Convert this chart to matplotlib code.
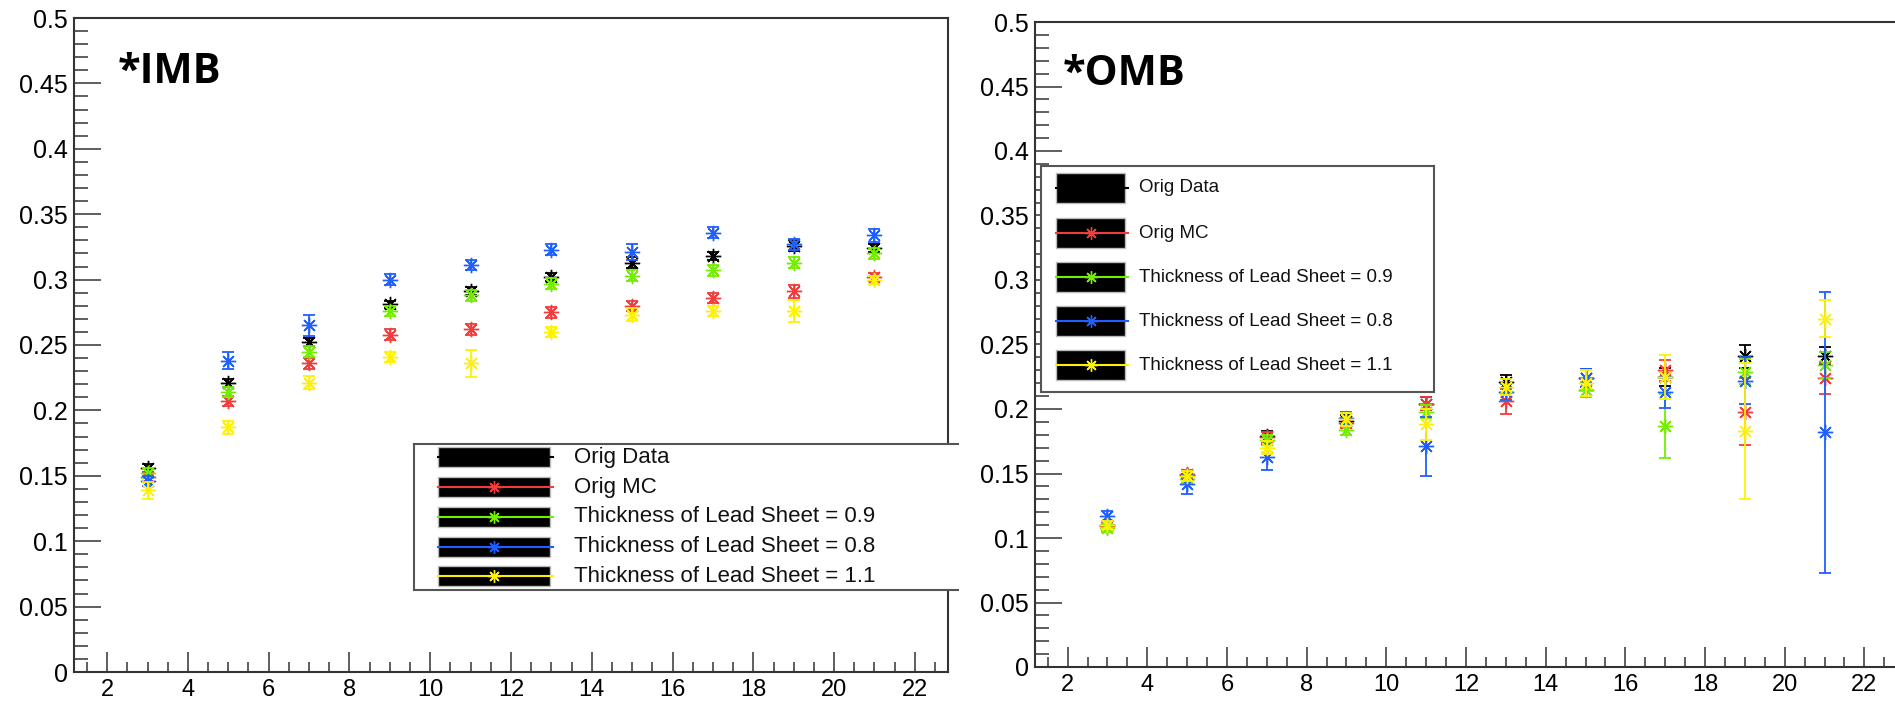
import matplotlib
matplotlib.use("Agg")
import matplotlib.pyplot as plt
from matplotlib.patches import Rectangle
from matplotlib.lines import Line2D
from matplotlib.ticker import MultipleLocator, FuncFormatter

# Datos
x_vals = [3, 5, 7, 9, 11, 13, 15, 17, 19, 21]
labels = ['Orig Data', 'Orig MC', 'Thickness of Lead Sheet = 0.9',
          'Thickness of Lead Sheet = 0.8', 'Thickness of Lead Sheet = 1.1']
colors = ['black', '#f03c3c', '#74ee00', '#1f5fff', '#fff200']

# *IMB
imb_data = [0.156, 0.221, 0.252, 0.281, 0.291, 0.302, 0.313, 0.318, 0.326, 0.324]
imb_mc = [0.149, 0.207, 0.236, 0.258, 0.262, 0.275, 0.280, 0.286, 0.291, 0.302]
imb_09 = [0.152, 0.214, 0.245, 0.276, 0.288, 0.297, 0.303, 0.307, 0.313, 0.320]
imb_08 = [0.146, 0.238, 0.265, 0.300, 0.311, 0.323, 0.321, 0.336, 0.327, 0.334]
imb_11 = [0.139, 0.187, 0.221, 0.241, 0.236, 0.260, 0.273, 0.276, 0.276, 0.300]
imb_data_err = [0.003, 0.003, 0.003, 0.003, 0.003, 0.003, 0.004, 0.003, 0.004, 0.003]
imb_mc_err = [0.004, 0.004, 0.004, 0.004, 0.004, 0.004, 0.004, 0.004, 0.005, 0.003]
imb_09_err = [0.004, 0.004, 0.004, 0.004, 0.004, 0.004, 0.004, 0.004, 0.004, 0.004]
imb_08_err = [0.004, 0.0064, 0.0079, 0.004, 0.004, 0.004, 0.006, 0.004, 0.004, 0.005]
imb_11_err = [0.0064, 0.005, 0.005, 0.004, 0.0104, 0.004, 0.005, 0.004, 0.0087, 0.003]

# *OMB
omb_data = [0.110, 0.149, 0.179, 0.191, 0.204, 0.221, 0.224, 0.225, 0.241, 0.241]
omb_mc = [0.109, 0.150, 0.178, 0.189, 0.204, 0.206, 0.215, 0.230, 0.198, 0.224]
omb_09 = [0.108, 0.146, 0.176, 0.184, 0.198, 0.213, 0.215, 0.187, 0.229, 0.234]
omb_08 = [0.117, 0.142, 0.163, 0.193, 0.171, 0.213, 0.224, 0.213, 0.222, 0.182]
omb_11 = [0.110, 0.148, 0.170, 0.192, 0.188, 0.217, 0.220, 0.225, 0.183, 0.270]
omb_data_err = [0.003, 0.003, 0.004, 0.004, 0.005, 0.005, 0.007, 0.007, 0.009, 0.007]
omb_mc_err = [0.003, 0.003, 0.004, 0.004, 0.005, 0.0095, 0.006, 0.008, 0.026, 0.012]
omb_09_err = [0.003, 0.003, 0.004, 0.004, 0.005, 0.006, 0.006, 0.025, 0.010, 0.010]
omb_08_err = [0.004, 0.008, 0.010, 0.005, 0.023, 0.006, 0.007, 0.012, 0.018, 0.109]
omb_11_err = [0.003, 0.004, 0.005, 0.005, 0.012, 0.006, 0.010, 0.017, 0.053, 0.0145]

W, H = 1895, 703
plt.rcParams['font.family'] = ['Liberation Sans', 'DejaVu Sans']
fig = plt.figure(figsize=(W / 100, H / 100), dpi=100)

STAR = (8, 2, 0)


def px(x, y):
    return (x / W, 1 - y / H)


def setup_axes(ax):
    ax.set_xlim(1.18, 22.82)
    ax.set_ylim(0, 0.5)
    ax.xaxis.set_major_locator(MultipleLocator(2))
    ax.xaxis.set_minor_locator(MultipleLocator(0.5))
    ax.yaxis.set_major_locator(MultipleLocator(0.05))
    ax.yaxis.set_minor_locator(MultipleLocator(0.01))
    ax.yaxis.set_major_formatter(FuncFormatter(lambda v, p: '%g' % round(v, 3)))
    ax.tick_params(axis='both', which='both', direction='in', width=1.1,
                   color='#333333', top=False, right=False)
    ax.tick_params(axis='y', which='major', length=19.5, pad=4.5, labelsize=18)
    ax.tick_params(axis='y', which='minor', length=10)
    ax.tick_params(axis='x', which='major', length=14.5, pad=5, labelsize=17)
    ax.tick_params(axis='x', which='minor', length=7)
    for s in ax.spines.values():
        s.set_linewidth(1.5)
        s.set_color('#333333')


def draw_series(ax, series, errs):
    for vals, err, c in zip(series, errs, colors):
        ax.errorbar(x_vals, vals, yerr=err, fmt='none', ecolor=c,
                    elinewidth=1.3, capsize=4, capthick=1.3)
        ax.plot(x_vals, vals, linestyle='none', marker=STAR, markersize=11,
                markeredgewidth=1.0, color=c)
        ax.plot(x_vals, vals, linestyle='none', marker='o', markersize=2.5,
                color=c)


def draw_legend(box, rows_y, rect_x, rect_h, text_x, fs, right_edge=True):
    x0, y0, x1, y1 = box
    fig.add_artist(Rectangle(px(x0, y1), (x1 - x0) / W, (y1 - y0) / H,
                             transform=fig.transFigure, facecolor='white',
                             edgecolor='none', zorder=5))
    edges = [((x0, y0), (x1, y0)), ((x0, y1), (x1, y1)), ((x0, y0), (x0, y1))]
    if right_edge:
        edges.append(((x1, y0), (x1, y1)))
    for a, b in edges:
        pa, pb = px(*a), px(*b)
        fig.add_artist(Line2D([pa[0], pb[0]], [pa[1], pb[1]], color='#555555',
                              linewidth=1.5, transform=fig.transFigure, zorder=6))
    ra, rb = rect_x
    for ry, lab, c in zip(rows_y, labels, colors):
        fig.add_artist(Rectangle(px(ra, ry + rect_h / 2), (rb - ra) / W, rect_h / H,
                                 transform=fig.transFigure, facecolor='black',
                                 edgecolor='#bbbbbb', linewidth=1.0, zorder=6))
        la, lb = px(ra, ry), px(rb + 3, ry)
        fig.add_artist(Line2D([la[0], lb[0]], [la[1], lb[1]], color=c,
                              linewidth=1.5, transform=fig.transFigure, zorder=7))
        mc = px((ra + rb) / 2, ry)
        fig.add_artist(Line2D([mc[0]], [mc[1]], color=c, marker=STAR, markersize=9,
                              markeredgewidth=1.0, linestyle='none',
                              transform=fig.transFigure, zorder=8))
        tp = px(text_x, ry)
        fig.text(tp[0], tp[1], lab, fontsize=fs, va='center', ha='left',
                 color='#111111', zorder=8)


# Panel izquierdo: *IMB
ax1 = fig.add_axes([74 / W, 1 - 672 / H, (948 - 74) / W, (672 - 18) / H])
setup_axes(ax1)
draw_series(ax1, [imb_data, imb_mc, imb_09, imb_08, imb_11],
            [imb_data_err, imb_mc_err, imb_09_err, imb_08_err, imb_11_err])
ax1.text(118 / W, 1 - 83 / H, '*IMB', transform=fig.transFigure, fontsize=30,
         fontweight='bold', family='Open Sans', va='baseline', ha='left')

# Panel derecho: *OMB
ax2 = fig.add_axes([1035 / W, 1 - 667 / H, (1897 - 1035) / W, (667 - 22) / H])
setup_axes(ax2)
draw_series(ax2, [omb_data, omb_mc, omb_09, omb_08, omb_11],
            [omb_data_err, omb_mc_err, omb_09_err, omb_08_err, omb_11_err])
ax2.text(1063 / W, 1 - 85 / H, '*OMB', transform=fig.transFigure, fontsize=30,
         fontweight='bold', family='Open Sans', va='baseline', ha='left')

# Leyendas
draw_legend((414, 444, 958, 590), [457, 487, 517, 547, 576], (438, 550), 20, 574, 16,
            right_edge=False)
draw_legend((1041, 166, 1434, 392), [188, 233, 277, 321, 365], (1056, 1125), 30, 1139, 13.5)

fig.savefig('out.png', dpi=100)
